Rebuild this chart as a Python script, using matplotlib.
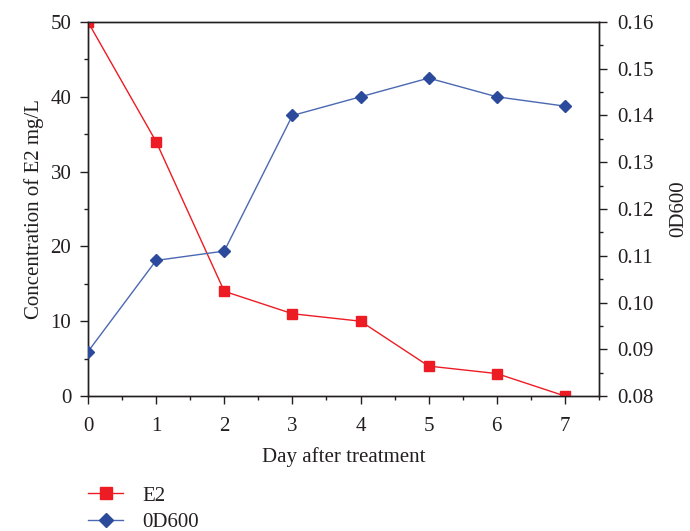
import matplotlib
matplotlib.use("Agg")
import matplotlib.pyplot as plt
from matplotlib.ticker import MultipleLocator, FormatStrFormatter
from matplotlib.lines import Line2D

plt.rcParams['font.family'] = ['Liberation Serif', 'DejaVu Serif']
plt.rcParams['font.size'] = 15

days = [0, 1, 2, 3, 4, 5, 6, 7]
e2 = [50, 34, 14, 11, 10, 4, 3, 0]
od600 = [0.0895, 0.109, 0.111, 0.140, 0.144, 0.148, 0.144, 0.142]

red = '#ED1C24'
blue_line = '#4B68B2'
blue_mark = '#2B4A9B'
txt = '#231F20'
fs = 15

fig = plt.figure(figsize=(6.9, 5.31), dpi=100)
ax = fig.add_axes([88/690, 1-396/531, (599-88)/690, (396-22)/531])
ax2 = ax.twinx()

ax.plot(days, e2, color=red, lw=1.0, marker='s', ms=6.5, mfc=red, mec=red, zorder=3)
ax2.plot(days, od600, color=blue_line, lw=1.0, marker='D', ms=6, mfc=blue_mark, mec=blue_mark, zorder=3)

ax.set_xlim(0, 7.5)
ax.set_ylim(0, 50)
ax2.set_ylim(0.08, 0.16)

ax.xaxis.set_major_locator(MultipleLocator(1))
ax.xaxis.set_minor_locator(MultipleLocator(0.5))
ax.yaxis.set_major_locator(MultipleLocator(10))
ax.yaxis.set_minor_locator(MultipleLocator(5))
ax2.yaxis.set_major_locator(MultipleLocator(0.01))
ax2.yaxis.set_minor_locator(MultipleLocator(0.005))
ax2.yaxis.set_major_formatter(FormatStrFormatter('%.2f'))

for a in (ax, ax2):
    for s in a.spines.values():
        s.set_color(txt)
        s.set_linewidth(1.0)
ax.tick_params(axis='x', which='major', direction='out', length=6, width=1.0, colors=txt, labelsize=fs, pad=9)
ax.tick_params(axis='y', which='major', direction='out', length=6, width=1.0, colors=txt, labelsize=fs, pad=6)
ax.tick_params(axis='both', which='minor', direction='out', length=3, width=1.0, colors=txt)
ax2.tick_params(axis='y', which='major', direction='out', length=6, width=1.0, colors=txt, labelsize=fs, pad=7)
ax2.tick_params(axis='y', which='minor', direction='out', length=3, width=1.0, colors=txt)

ax.set_xlabel('Day after treatment', fontsize=fs, color=txt, labelpad=8)
ax.set_ylabel('Concentration of E2 mg/L', fontsize=fs, color=txt, labelpad=5)
ax2.set_ylabel('0D600', fontsize=fs, color=txt, labelpad=11)

handles = [
    Line2D([0], [0], color=red, lw=1.0, marker='s', ms=8, mfc=red, mec=red),
    Line2D([0], [0], color=blue_line, lw=1.0, marker='D', ms=7, mfc=blue_mark, mec=blue_mark),
]
fig.legend(handles, ['E2', '0D600'], loc='upper left', bbox_to_anchor=(88/690, 1-486/531),
           frameon=False, fontsize=fs, handlelength=1.7, labelspacing=0.35, handletextpad=0.9,
           labelcolor=txt, borderpad=0, borderaxespad=0)

fig.savefig('out.png', dpi=100)
